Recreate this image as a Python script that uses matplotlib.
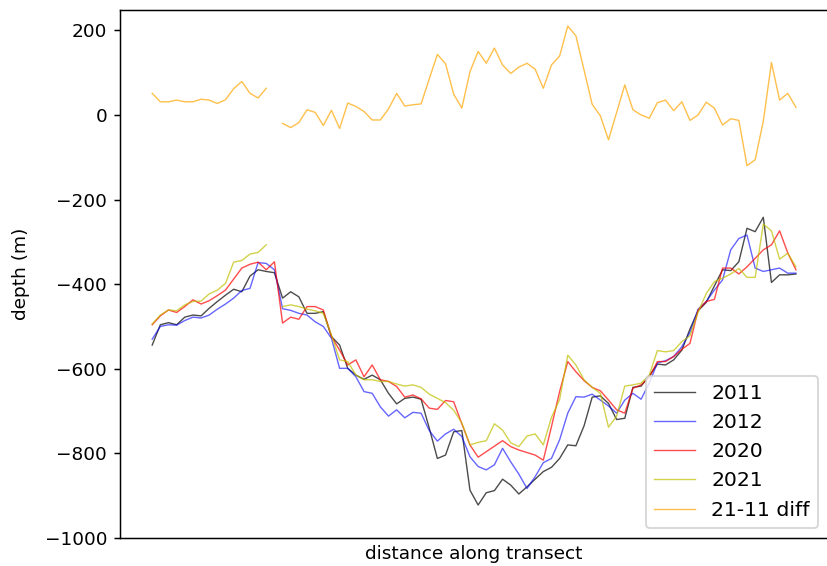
import numpy as np
import matplotlib
matplotlib.use("Agg")
import matplotlib.pyplot as plt

nan = np.nan

# bed depth along the transect for each survey year (m)
d2011 = [-544, -496, -491, -496, -478, -473, -475, -457, -441, -426,
         -412, -418, -381, -366, -370, -373, -433, -418, -430, -469,
         -469, -465, -524, -544, -599, -615, -625, -615, -626, -658,
         -683, -670, -667, -672, -740, -812, -804, -749, -746, -887,
         -922, -893, -888, -861, -875, -896, -879, -861, -843, -833,
         -812, -780, -782, -735, -667, -664, -682, -720, -717, -644,
         -641, -617, -589, -591, -579, -556, -506, -463, -443, -404,
         -366, -368, -347, -268, -276, -242, -396, -378, -378, -376]

d2012 = [-530, -500, -496, -497, -486, -478, -480, -473, -459, -447,
         -433, -415, -410, -349, -351, -366, -458, -462, -469, -473,
         -489, -500, -528, -599, -599, -619, -654, -658, -690, -712,
         -697, -716, -703, -705, -746, -771, -754, -743, -760, -808,
         -831, -839, -827, -788, -820, -849, -883, -855, -822, -812,
         -768, -705, -666, -667, -660, -674, -688, -705, -674, -658,
         -672, -634, -586, -581, -571, -548, -514, -459, -441, -414,
         -390, -319, -292, -284, -362, -370, -366, -362, -374, -374]

d2020 = [-496, -475, -461, -467, -453, -437, -447, -439, -427, -414,
         -388, -362, -353, -348, -366, -347, -492, -478, -483, -453,
         -453, -461, -524, -556, -591, -579, -619, -591, -626, -630,
         -642, -667, -662, -671, -693, -696, -675, -678, -730, -780,
         -809, -796, -783, -770, -784, -792, -798, -804, -816, -737,
         -654, -583, -607, -628, -644, -652, -674, -697, -705, -646,
         -638, -620, -583, -583, -571, -554, -540, -461, -441, -436,
         -362, -362, -376, -359, -339, -319, -307, -274, -326, -366]

d2021 = [-494, -473, -461, -463, -449, -441, -440, -423, -414, -398,
         -348, -344, -329, -325, -307, nan, -453, -449, -453, -459,
         -463, -469, -520, -579, -583, -615, -626, -626, -630, -630,
         -636, -641, -638, -644, -660, -670, -680, -698, -728, -780,
         -774, -770, -730, -745, -775, -784, -759, -754, -780, -715,
         -673, -568, -591, -626, -644, -658, -738, -712, -641, -638,
         -634, -615, -557, -560, -557, -536, -522, -466, -422, -394,
         -386, -376, -363, -384, -384, -258, -274, -341, -327, -359]

diff_21_11 = [51, 31, 31, 35, 31, 31, 37, 35, 27, 36,
              62, 79, 51, 40, 63, nan, -20, -30, -18, 12,
              6, -25, 11, -32, 28, 20, 8, -12, -12, 14,
              51, 21, 24, 26, 85, 143, 121, 49, 16, 102,
              150, 122, 158, 118, 98, 113, 122, 108, 63, 118,
              139, 210, 187, 106, 25, -2, -59, 6, 71, 12,
              0, -8, 29, 35, 10, 31, -13, 0, 30, 16,
              -24, -9, -13, -120, -106, -15, 124, 35, 51, 18]

yticks = [200, 0, -200, -400, -600, -800, -1000]

dist = np.arange(len(d2011))

fig = plt.figure(figsize=(6.2, 4.243), dpi=133.4)
ax = fig.add_axes([120 / 827, 28 / 566, 708 / 827, 528 / 566])

lw = 0.75
ax.plot(dist, d2011, color="k", alpha=0.7, lw=lw, label="2011")
ax.plot(dist, d2012, color="b", alpha=0.6, lw=lw, label="2012")
ax.plot(dist, d2020, color="r", alpha=0.7, lw=lw, label="2020")
ax.plot(dist, d2021, color="y", alpha=0.7, lw=lw, label="2021")
ax.plot(dist, diff_21_11, color="orange", alpha=0.7, lw=lw, label="21-11 diff")

ax.set_ylim(-1000, 248)
ax.set_yticks(yticks)
ax.set_xticks([])
ax.set_ylabel("depth (m)", labelpad=8)
ax.set_xlabel("distance along transect")
ax.legend(loc="lower right", fontsize=11)

fig.savefig("out.png", dpi=133.4)
